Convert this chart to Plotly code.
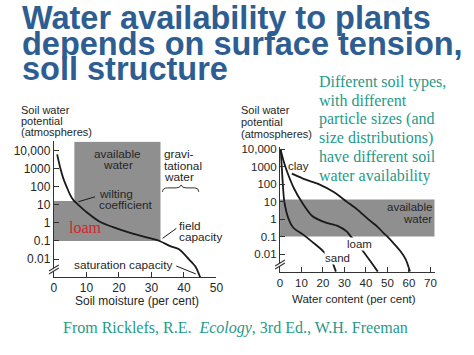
import plotly.graph_objects as go

W, H = 474, 355

# ---------------- data ----------------
ytick_vals = [10000, 1000, 100, 10, 1, 0.1, 0.01]
ytick_text = ["10,000", "1000", "100", "10", "1", "0.1", "0.01"]
left_xticks = [0, 10, 20, 30, 40, 50]
right_xticks = [0, 10, 20, 30, 40, 50, 60, 70]

# left panel: loam retention curve
loam_l_x = [1, 2, 3, 4, 5, 6, 7.5, 10, 14, 18, 23, 28, 32.5, 36, 38.5, 41.5, 43.5, 45]
loam_l_y = [6000, 1000, 250, 90, 35, 18, 10, 4, 1.2, 0.6, 0.3, 0.17, 0.1, 0.05, 0.035, 0.01, 0.004, 0.001]
# left panel: shaded available water region
avail_l_x = [0, 0, 6.3, 6.3, 32.8, 32.8, 0]
avail_l_y = [0.1, 16, 16, 30000, 30000, 0.1, 0.1]

# right panel curves
sand_x = [0.3, 0.8, 1.3, 2, 4, 6.2, 10.8, 15, 20, 24, 26]
sand_y = [9000, 1000, 100, 10, 1, 0.32, 0.13, 0.05, 0.015, 0.004, 0.001]
loam_r_x = [0.3, 2, 4, 6.4, 10, 15, 21, 27, 31, 33, 36, 38.6, 42, 45.5]
loam_r_y = [9000, 1500, 300, 60, 10, 1.5, 0.65, 0.4, 0.2, 0.1, 0.04, 0.015, 0.004, 0.001]
clay_x = [5.5, 12, 18, 25, 31, 36, 41, 45.5, 48, 50, 53, 56, 58.5, 60.5]
clay_y = [400, 180, 100, 35, 10, 3.5, 1, 0.35, 0.17, 0.1, 0.04, 0.015, 0.005, 0.001]
# right panel: shaded available water band
avail_r_x = [0, 0, 72, 72, 0]
avail_r_y = [0.1, 13, 13, 0.1, 0.1]

# ---------------- style ----------------
GRAY = "#8f8f8f"
INK = "#1a1a1a"
AX = "#333333"
TITLE_C = "#2e5e91"
TEAL = "#1f9a8a"
SANS = "Liberation Sans, Arial, sans-serif"
SERIF = "Liberation Serif, Times New Roman, serif"


def P(px, py):
    return px / W, 1 - py / H


fig = go.Figure()

fig.add_trace(go.Scatter(x=avail_l_x, y=avail_l_y, fill="toself", fillcolor=GRAY,
                         mode="none", xaxis="x", yaxis="y", hoverinfo="skip"))
fig.add_trace(go.Scatter(x=avail_r_x, y=avail_r_y, fill="toself", fillcolor=GRAY,
                         mode="none", xaxis="x2", yaxis="y2", hoverinfo="skip"))

curve = dict(color=INK, width=1.8, shape="spline", smoothing=0.8)
fig.add_trace(go.Scatter(x=loam_l_x, y=loam_l_y, mode="lines", line=curve, xaxis="x", yaxis="y"))
for xs, ys in [(sand_x, sand_y), (loam_r_x, loam_r_y), (clay_x, clay_y)]:
    fig.add_trace(go.Scatter(x=xs, y=ys, mode="lines", line=curve, xaxis="x2", yaxis="y2"))


def axis_common(size):
    return dict(showgrid=False, zeroline=False, showline=True, linecolor=AX, linewidth=1.2,
                ticks="inside", ticklen=5, tickcolor=AX, tickwidth=1.2,
                tickfont=dict(family=SANS, size=size, color="#262626"), fixedrange=True)


fig.update_layout(
    width=W, height=H, autosize=False,
    margin=dict(l=0, r=0, t=0, b=0),
    paper_bgcolor="white", plot_bgcolor="rgba(0,0,0,0)",
    showlegend=False,
    xaxis=dict(domain=[52 / W, 218 / W], range=[0, 50], anchor="y",
               tickvals=left_xticks, **axis_common(12)),
    yaxis=dict(domain=[1 - 276 / H, 1 - 139 / H], type="log", range=[-2.98, 4.49], anchor="x",
               tickvals=ytick_vals, ticktext=ytick_text, **axis_common(12)),
    xaxis2=dict(domain=[283 / W, 441 / W], range=[0, 72], anchor="y2",
                tickvals=right_xticks, **axis_common(11.5)),
    yaxis2=dict(domain=[1 - 271 / H, 1 - 145 / H], type="log", range=[-3.02, 4.1], anchor="x2",
                tickvals=ytick_vals, ticktext=ytick_text, **axis_common(11.5)),
)

ann = []


def txt(px, py, s, size=11.5, color="#262626", family=SANS, xanchor="left", bg=None):
    x, y = P(px, py)
    d = dict(x=x, y=y, xref="paper", yref="paper", text=s, showarrow=False,
             xanchor=xanchor, yanchor="middle", font=dict(family=family, size=size, color=color))
    if bg:
        d["bgcolor"] = bg
        d["borderpad"] = 0
    ann.append(d)


# title
for i, line in enumerate(["Water availability to plants",
                          "depends on surface tension,",
                          "soil structure"]):
    txt(17, 14.5 + i * 25.8, "<b>" + line + "</b>", size=32.5, color=TITLE_C)

# teal paragraph
for i, line in enumerate(["Different soil types,", "with different", "particle sizes (and",
                          "size distributions)", "have different soil", "water availability"]):
    txt(321, 79 + i * 18.9, line, size=16, color=TEAL, family=SERIF)

# source
txt(237, 328, "From Ricklefs, R.E.\u00a0\u00a0<i>Ecology</i>, 3rd Ed., W.H. Freeman",
    size=16, color=TEAL, family=SERIF, xanchor="center")

# left panel texts
for i, line in enumerate(["Soil water", "potential", "(atmospheres)"]):
    txt(16, 107 + i * 11.3, line, size=11)
txt(117, 152, "available", size=11.8, xanchor="center")
txt(117, 163, "water", size=11.8, xanchor="center")
for i, line in enumerate(["gravi-", "tational", "water"]):
    txt(162, 152 + i * 11.5, line, size=11.8)
txt(96, 192, "wilting", size=11.8)
txt(96, 203, "coefficient", size=11.8)
txt(178, 225, "field", size=11.8)
txt(178, 236, "capacity", size=11.8)
txt(175, 264, "saturation capacity", size=11.8, xanchor="right")
txt(84, 226, "loam", size=16, color="#d8232a", family=SERIF, xanchor="center")
txt(137, 300, "Soil moisture (per cent)", size=12, xanchor="center")

# right panel texts
for i, line in enumerate(["Soil water", "potential", "(atmospheres)"]):
    txt(241, 107 + i * 12, line, size=11)
txt(302, 164, "clay", size=11.5, xanchor="center")
txt(440, 205, "available", size=11.5, xanchor="right")
txt(440, 217, "water", size=11.5, xanchor="right")
txt(364, 243, "loam", size=11.5, xanchor="center", bg="white")
txt(342, 257, "sand", size=11.5, xanchor="center", bg="white")
txt(359, 298, "Water content (per cent)", size=11.5, xanchor="center")

fig.update_layout(annotations=ann)

shapes = []


def seg(p0, p1, width=1.0, color=INK):
    x0, y0 = P(*p0)
    x1, y1 = P(*p1)
    shapes.append(dict(type="line", xref="paper", yref="paper", x0=x0, y0=y0, x1=x1, y1=y1,
                       line=dict(color=color, width=width)))


# leader lines
seg((94, 195), (77, 200))
seg((177, 227), (163, 237))
seg((177, 265), (197, 273))


# axis breaks
def brk(cx, cy):
    pts = [P(cx - 5, cy + 2), P(cx + 5, cy - 4), P(cx + 5, cy - 1), P(cx - 5, cy + 5)]
    path = "M {} {} L {} {} L {} {} L {} {} Z".format(*[v for p in pts for v in p])
    shapes.append(dict(type="path", xref="paper", yref="paper", path=path,
                       fillcolor="white", line=dict(width=0)))
    seg((cx - 5, cy + 2), (cx + 5, cy - 4), width=1.1, color=AX)
    seg((cx - 5, cy + 5), (cx + 5, cy - 1), width=1.1, color=AX)


brk(52, 268)
brk(283, 263)

# brace under "gravitational water"
bp = [P(163, 190), P(163, 186), P(168, 186), P(177, 186), P(181, 186), P(182, 183),
      P(183, 186), P(187, 186), P(196, 186), P(200, 186), P(200, 190)]
bpath = ("M {} {} Q {} {} {} {} L {} {} Q {} {} {} {} Q {} {} {} {} L {} {} Q {} {} {} {}"
         .format(*[v for p in bp for v in p]))
shapes.append(dict(type="path", xref="paper", yref="paper", path=bpath,
                   line=dict(color=AX, width=1)))

fig.update_layout(shapes=shapes)

fig.write_html("out.html")
